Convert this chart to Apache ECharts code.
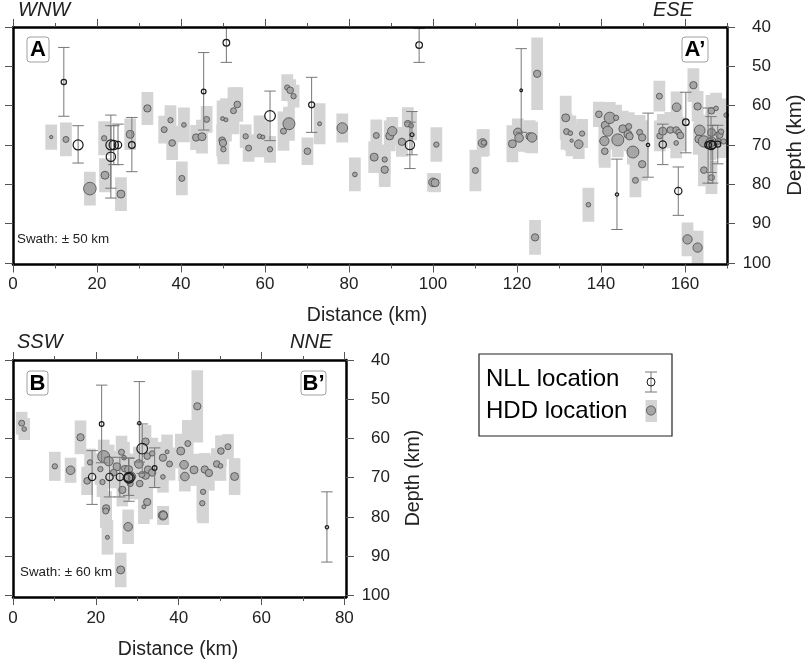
<!DOCTYPE html>
<html><head><meta charset="utf-8">
<script src="https://cdn.jsdelivr.net/npm/echarts@6/dist/echarts.min.js"></script>
<style>html,body{margin:0;padding:0;background:#fff}#c{width:809px;height:663px}</style>
</head><body><div id="c"></div>
<script>
// Rows: distance km, depth km, marker size class, depth half-uncertainty km
const hddAWest = [[9.1,68,5,3.2],[12.6,68.6,9,4.3],[18.3,81.1,19,4.3],[21.7,68.3,8,4.3],[21.9,77.7,12,4.3],[25.7,82.5,12,4.3],[27.9,67.3,12,4],[32,60.7,11,4.2],[36,66.1,9,3.5],[37.5,63.7,8,3.8],[37.9,69.5,10,4.3],[40.2,78.5,9,4.3],[40.7,64.9,7,4.4],[43.6,68.1,11,3.2],[45,67.9,12,4.3],[46.1,63.5,9,3.4],[49.9,63.3,6,4.6],[50.7,63.6,6,5.5],[49.8,68.8,10,4],[50,69.5,11,4],[50.1,71.1,8,3.8],[52.5,61.3,9,6],[53.4,59.7,10,4.4],[55.4,67.8,8,3],[56.1,70.8,9,3.5],[58.7,67.8,7,5.3],[59.5,68,6,4],[61.2,71.1,8,3.4]];
const hddACentre = [[65.3,55.4,8,3.4],[66,56.1,10,2.8],[66.8,57.6,8,2.9],[64.4,66.5,9,5],[65.7,64.6,18,4.3],[70.1,71.6,10,3.5],[73,64.6,6,5.2],[78.4,65.7,16,3.7],[81.4,77.5,7,4.3],[86.5,67.6,9,4.1],[86,73.1,12,4],[88.5,73.7,8,3.8],[88.5,76.3,11,4.4],[89.7,67.7,12,3.9],[90.3,66.5,14,3.6],[92.6,69.2,11,3.8],[94,64.6,10,4.2],[94.8,65.1,7,3.7],[100,79.5,13,2.4],[100.5,79.6,12,2.4],[100.8,69.9,8,4.4],[110.1,76.5,9,5.3],[111.8,69.5,13,3.5],[112.1,69.4,8,3.4],[118.9,69.7,12,4.7],[120.2,66.8,13,3.5],[120.5,68.2,13,3.5],[123,67.8,11,4.1],[123.6,68.1,14,4],[124.8,51.9,11,9.2],[124.3,93.5,11,4.4]];
const hddAEast = [[131.6,63.1,12,5.6],[131.8,66.6,9,4.6],[132.7,67,7,4.5],[133,68.9,5,4],[134.7,69.8,13,3.8],[135.5,67.1,8,3.7],[137,85.2,7,4.3],[139.5,62.2,10,3.2],[141,65,12,4.8],[142.1,63.1,17,4],[143.6,63.1,8,3.3],[141.6,66.5,15,4.6],[140.8,69,14,5.9],[140.9,71.6,10,4.2],[144,68.7,18,4.4],[145.2,65.9,12,4.6],[146.6,65.3,9,3.6],[146.4,67.3,12,3.8],[146.8,67.8,11,3.8],[147.6,71.8,18,3.2],[149.2,66.8,9,4.4],[149.8,68.1,11,4.4],[149.8,74.9,11,4.2],[148.2,79,9,4.3],[153.9,57.6,9,3.9],[154,67.7,9,3.9],[154.7,66.5,12,4.4],[156.5,66.2,10,4.6],[157.9,66.2,10,4.4],[158.5,66.8,9,4],[158,60.4,13,4],[157.9,69.5,7,3.9],[158.9,67.6,10,4],[162,54.8,11,4.3],[163,60.2,11,3.9],[160.6,94,14,4.3],[163,96.1,14,4.3],[163.5,66.3,16,4],[163.3,68.5,12,4],[164.5,69.1,17,4.4],[164.5,76.4,10,4.1],[166.3,61.3,10,4],[167.4,60.7,7,4],[166.3,66.8,12,5.3],[166.3,69.1,14,4.4],[166,69.5,14,4.4],[168.2,67.4,11,4.2],[168.6,66.6,8,4.2],[166.3,78.3,9,4.2],[167.9,69.1,9,4.2],[169.8,62.4,7,4.2],[169.2,69.1,8,4.2]];
const hddB = [[2.1,56.1,9,2.9],[2.7,57.6,7,2.8],[10.1,67.1,8,3.7],[13.9,68.1,13,3.2],[16.3,59.7,11,4.3],[17.9,70.8,10,3.6],[18.6,66.1,8,3.5],[21.1,67.8,8,4],[21.6,71.1,8,3.8],[21.9,64.6,18,4.3],[23.1,65.8,14,4.2],[22.5,77.8,11,4.4],[22.4,78.5,9,4.3],[22.8,85.2,6,4.4],[25.1,67.2,12,4],[26.2,63.5,9,4.2],[26.8,64.9,7,4],[24.3,68.7,10,4],[26.4,73.1,11,4.2],[26,93.5,12,4.4],[27.8,82.5,13,4.4],[27,67.7,10,4],[27.9,67.9,12,4],[28.5,69.7,14,4],[27.4,70,10,4],[28.3,71.5,9,4],[30.6,71.5,10,4],[30.4,66.5,13,4.4],[32,60.8,11,4.2],[32.4,64.5,10,4],[33.6,63.8,8,4],[32,69.4,12,4],[31.1,69.2,9,4],[32.6,67.9,11,4],[33.6,68.7,11,4],[32.4,76.2,11,4.4],[31.6,77.4,6,4.4],[36.2,69.8,7,4],[36.2,64.9,11,4],[36.2,79.6,14,2.4],[36.3,79.6,12,2.4],[37.2,63.4,6,4.4],[37.8,66.5,9,4.2],[40.5,63.2,12,4.4],[42.2,61.3,9,6],[44.5,51.8,11,9.2],[41.3,66.7,13,4.2],[41.5,69.7,13,3.8],[43.7,68,12,4.1],[46.3,67.9,11,4.2],[47.3,68.8,11,4.5],[45.9,73.6,8,8],[45.7,76.5,8,4.4],[49.2,66.5,10,4],[50.1,67,7,3.8],[50.2,63.2,10,4],[51.9,62.1,9,3.2],[53.5,69.7,12,4.7]];
// Rows: distance km, depth km, marker size class, upper depth bound km, lower depth bound km
const nllA = [[12.1,54,8,45.2,62.7],[15.5,70,15,65.1,74.6],[23.3,70,15,62.4,83.5],[23.3,73,14,65.1,81],[24,70,14,65.1,75],[25,70,11,64.7,75],[28.3,70,10,63,76.8],[45.4,56.4,7,46.5,66.2],[50.8,44,10,38.9,49],[61.2,62.6,16,56.3,68.9],[71.1,59.8,9,52.8,66.8],[96.7,44.6,10,40.4,49],[95,67.4,6,61.5,72.5],[94.5,70,14,64.2,76],[121,56.1,4,45.5,66.8],[143.8,82.6,5,73.6,91.5],[151.2,70,5,61.9,78.2],[154.7,69.9,11,64.7,75],[158.4,81.7,11,75.6,87.9],[160.2,64.2,10,56.6,72],[165.5,70,10,60.6,79.7],[166.2,70,14,62.8,77],[166.6,70,11,65,79.7],[167.8,69.8,9,65,74.8]];
const nllB = [[21.4,56.3,7,46.4,66.2],[19.1,69.8,11,63.1,76.8],[23.3,69.8,11,64.8,74.9],[25.8,69.8,11,64.8,74.9],[27.9,70,13,65,74.5],[28,70,16,65,76],[30.5,56.1,5,45.5,66],[31.2,62.6,16,56.3,68.9],[34.2,67.5,7,62.4,72.5],[75.8,82.6,5,73.6,91.5]];
const tickValues = [0,20,40,60,80,100,120,140,160];
const depthTicks = [40,50,60,70,80,90,100];

const FONT = 'Liberation Sans';
const INK = '#222';
const dia = s => s * 2 / 3;
const gridA = {left:13, top:27, width:714, height:237.5};
const gridB = {left:13, top:360, width:333, height:237};

function xAxes(gridIndex, max, majors, minorOnly, margin){
  const values = [];
  for (let v = 0; v <= max; v += 10) values.push(v);
  const tick = {show:true, length: minorOnly ? 4 : 8, customValues: minorOnly ? values : majors,
    lineStyle:{color:'#555', width:1}};
  const base = {gridIndex, type:'value', min:0, max, splitLine:{show:false}, z:10,
    axisLine:{show:!minorOnly, onZero:false, lineStyle:{color:'#000', width:2.5}}, axisTick:tick};
  return [
    Object.assign({}, base, {position:'bottom',
      axisLabel: minorOnly ? {show:false} :
        {show:true, customValues:majors, fontFamily:FONT, fontSize:17, color:INK, margin, formatter:v=>String(v)}}),
    Object.assign({}, base, {position:'top', axisLabel:{show:false}})
  ];
}
function yAxes(gridIndex, hidden){
  const tick = {show:true, length:8, customValues:depthTicks, lineStyle:{color:'#555', width:1}};
  const base = {gridIndex, type:'value', min:40, max:100.4, inverse:true, splitLine:{show:false}, z:10, show:!hidden,
    axisLine:{show:true, onZero:false, lineStyle:{color:'#000', width:2.5}}, axisTick:tick};
  return [
    Object.assign({}, base, {position:'left', axisLabel:{show:false}}),
    Object.assign({}, base, {position:'right',
      axisLabel:{show:true, customValues:depthTicks, align:'right', margin:44, fontFamily:FONT, fontSize:17, color:INK}})
  ];
}
const rectSeries = (data, xi, yi) => ({type:'custom', xAxisIndex:xi, yAxisIndex:yi, clip:true, z:2, data,
  renderItem(p, api){
    const a = api.coord([api.value(0)-1.4, api.value(1)-api.value(3)]);
    const b = api.coord([api.value(0)+1.4, api.value(1)+api.value(3)]);
    return {type:'rect', shape:{x:a[0], y:a[1], width:b[0]-a[0], height:b[1]-a[1]}, style:{fill:'#d4d4d4'}};
  }});
const hddSeries = (data, xi, yi) => ({type:'scatter', xAxisIndex:xi, yAxisIndex:yi, clip:true, z:3, data,
  symbol:'circle', symbolSize:v=>dia(v[2]), silent:true,
  itemStyle:{color:'#a6a6a6', borderColor:'#4a4a4a', borderWidth:0.8, opacity:1}});
const errSeries = (data, xi, yi) => ({type:'custom', xAxisIndex:xi, yAxisIndex:yi, clip:true, z:4, data,
  renderItem(p, api){
    const t = api.coord([api.value(0), api.value(3)]);
    const b = api.coord([api.value(0), api.value(4)]);
    const cap = 5.7;
    const st = {stroke:'#777', lineWidth:1, fill:null};
    return {type:'group', children:[
      {type:'line', shape:{x1:t[0],y1:t[1],x2:b[0],y2:b[1]}, style:st},
      {type:'line', shape:{x1:t[0]-cap,y1:t[1],x2:t[0]+cap,y2:t[1]}, style:st},
      {type:'line', shape:{x1:b[0]-cap,y1:b[1],x2:b[0]+cap,y2:b[1]}, style:st}]};
  }});
const nllSeries = (data, xi, yi) => ({type:'scatter', xAxisIndex:xi, yAxisIndex:yi, clip:true, z:5, data,
  symbol:'circle', symbolSize:v=>dia(v[2]), silent:true,
  itemStyle:{color:'rgba(255,255,255,0)', borderColor:'#1a1a1a', borderWidth:1.2, opacity:1}});

const txt = (x,y,text,size,extra={}) => ({type:'text', x, y, z:20, style:Object.assign({text, fontFamily:FONT, fontSize:size, fill:INK, verticalAlign:'middle'}, extra)});
const badge = (x,y,w,h,label) => [
  {type:'rect', z:19, shape:{x,y,width:w,height:h,r:3}, style:{fill:'#fff', stroke:'#888', lineWidth:0.8}},
  txt(x+w/2, y+h/2+0.5, label, 22, {fontWeight:'bold', align:'center', fill:'#000'})];

const hddA = [...hddAWest, ...hddACentre, ...hddAEast];
const option = {
  animation:false, backgroundColor:'#fff',
  grid:[gridA, gridA, gridB, gridB].map(g=>Object.assign({show:false}, g)),
  xAxis:[...xAxes(0,170,tickValues.slice(0,9),false,11), ...xAxes(1,170,[],true,11),
         ...xAxes(2,80.4,tickValues.slice(0,5),false,13), ...xAxes(3,80,[],true,13).map(a=>Object.assign(a,{max:80.4}))],
  yAxis:[...yAxes(0,false), ...yAxes(1,true), ...yAxes(2,false), ...yAxes(3,true)],
  series:[
    rectSeries(hddA,0,0), hddSeries(hddA,0,0), errSeries(nllA,0,0), nllSeries(nllA,0,0),
    rectSeries(hddB,4,4), hddSeries(hddB,4,4), errSeries(nllB,4,4), nllSeries(nllB,4,4)
  ],
  graphic:[
    txt(18,10,'WNW',20,{fontStyle:'italic'}), txt(653,10,'ESE',20,{fontStyle:'italic'}),
    txt(17,342,'SSW',20,{fontStyle:'italic'}), txt(290,342,'NNE',20,{fontStyle:'italic'}),
    ...badge(27,37,22,25,'A'), ...badge(682,37,26,25,'A\u2019'),
    ...badge(27,371,21,24,'B'), ...badge(301,371,25,24,'B\u2019'),
    txt(17,239,'Swath: \u00b1 50 km',13.4), txt(20,572,'Swath: \u00b1 60 km',13.4),
    txt(367,316,'Distance (km)',19.5,{align:'center'}), txt(178,650,'Distance (km)',19.5,{align:'center'}),
    Object.assign(txt(795,145,'Depth (km)',20.5,{align:'center'}),{rotation:Math.PI/2}),
    Object.assign(txt(414,478,'Depth (km)',19.5,{align:'center'}),{rotation:Math.PI/2}),
    {type:'rect', z:18, shape:{x:479,y:354,width:193,height:82}, style:{fill:'#fff', stroke:'#222', lineWidth:1.2}},
    txt(486,379.5,'NLL location',24,{fill:'#000'}), txt(486,411,'HDD location',24,{fill:'#000'}),
    {type:'line', z:19, shape:{x1:651,y1:372,x2:651,y2:392}, style:{stroke:'#777', lineWidth:1}},
    {type:'line', z:19, shape:{x1:645,y1:372,x2:657,y2:372}, style:{stroke:'#777', lineWidth:1}},
    {type:'line', z:19, shape:{x1:645,y1:392,x2:657,y2:392}, style:{stroke:'#777', lineWidth:1}},
    {type:'circle', z:20, shape:{cx:651,cy:382,r:4}, style:{fill:'rgba(255,255,255,0)', stroke:'#1a1a1a', lineWidth:1}},
    {type:'rect', z:19, shape:{x:645.5,y:400,width:11.5,height:22}, style:{fill:'#d4d4d4'}},
    {type:'circle', z:20, shape:{cx:651,cy:410.5,r:4.6}, style:{fill:'#a6a6a6', stroke:'#4a4a4a', lineWidth:0.8}}
  ]
};
echarts.init(document.getElementById('c'),null,{renderer:'canvas'}).setOption(option);
</script></body></html>
